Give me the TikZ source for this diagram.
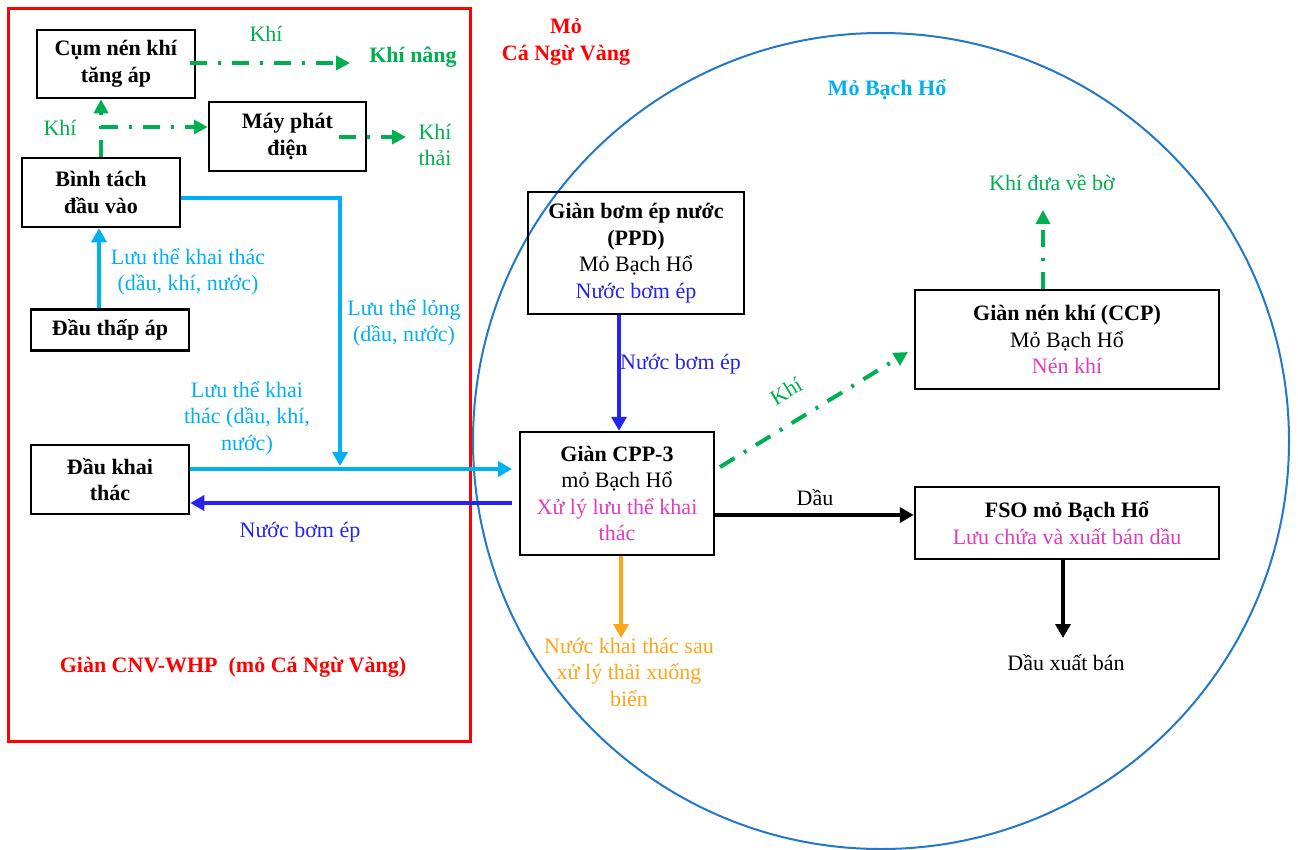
\documentclass[tikz,border=0pt]{standalone}
\usepackage{fontspec}
\setmainfont{Liberation Serif}
\usetikzlibrary{arrows.meta}
\definecolor{cgreen}{HTML}{00B050}
\definecolor{ccyan}{HTML}{00B0F0}
\definecolor{cblue}{HTML}{2424F0}
\definecolor{cmag}{HTML}{E03CBE}
\definecolor{corange}{HTML}{FFA51A}
\definecolor{cred}{HTML}{FF0000}
\definecolor{ccircle}{HTML}{2478C8}
\begin{document}
\begin{tikzpicture}[x=1pt,y=-1pt,
  every node/.style={font=\fontsize{22}{26.5}\selectfont, inner sep=0pt, align=center},
  box/.style={draw=black, line width=2.5pt, fill=none},
  gas/.style={draw=cgreen, line width=4pt, dash pattern=on 17pt off 11pt on 3pt off 11pt, -{Triangle[length=14pt,width=14pt]}},
  flowc/.style={draw=ccyan, line width=4pt, -{Triangle[length=14pt,width=15pt]}},
  flowb/.style={draw=cblue, line width=4pt, -{Triangle[length=14pt,width=15pt]}},
  flowk/.style={draw=black, line width=4pt, -{Triangle[length=14pt,width=15pt]}},
  flowo/.style={draw=corange, line width=4pt, -{Triangle[length=14pt,width=15pt]}}
]
\useasboundingbox (0,0) rectangle (1298,849);
% frames
\draw[cred, line width=3pt] (8,8) rectangle (470,741);
\draw[ccircle, line width=2pt] (881,441) circle (408);

% boxes
\node[box, minimum width=158pt, minimum height=68pt] (cum) at (116,64) {\textbf{Cụm nén khí}\\\textbf{tăng áp}};
\node[box, minimum width=157pt, minimum height=69pt] (may) at (287.5,136.5) {\textbf{Máy phát}\\\textbf{điện}};
\node[box, minimum width=158pt, minimum height=69pt] (binh) at (101,192.5) {\textbf{Bình tách}\\\textbf{đầu vào}};
\node[box, minimum width=158pt, minimum height=41pt] (dta) at (110,330) {\textbf{Đầu thấp áp}};
\node[box, minimum width=158pt, minimum height=69pt] (dkt) at (110,479.5) {\textbf{Đầu khai}\\\textbf{thác}};
\node[box, minimum width=216pt, minimum height=122pt] (ppd) at (636,253) {\textbf{Giàn bơm ép nước}\\\textbf{(PPD)}\\Mỏ Bạch Hổ\\\textcolor{cblue}{Nước bơm ép}};
\node[box, minimum width=194pt, minimum height=123pt] (cpp) at (617,493.5) {\textbf{Giàn CPP-3}\\mỏ Bạch Hổ\\\textcolor{cmag}{Xử lý lưu thể khai}\\\textcolor{cmag}{thác}};
\node[box, minimum width=304pt, minimum height=99pt] (ccp) at (1067,339.5) {\textbf{Giàn nén khí (CCP)}\\Mỏ Bạch Hổ\\\textcolor{cmag}{Nén khí}};
\node[box, minimum width=304pt, minimum height=72pt] (fso) at (1067,523) {\textbf{FSO mỏ Bạch Hổ}\\\textcolor{cmag}{Lưu chứa và xuất bán dầu}};

% free coordinates
\coordinate (nangend) at (350,63);
\coordinate (branch) at (101,127);
\coordinate (thaiend) at (406,137);
\coordinate (lcorner) at (340,198);
\coordinate (ljoin) at (340,466);
\coordinate (cppin) at (512,469);
\coordinate (cppout) at (512,503);
\coordinate (khistart) at (720,467);
\coordinate (khiend) at (908,352);
\coordinate (bo) at (1043,210);
\coordinate (xuat) at (1063,638);
\coordinate (bien) at (621,638);

% gas lines
\draw[gas] ([xshift=-6pt]cum.east |- nangend) -- (nangend);
\draw[gas] (binh.north -| branch) -- (cum.south -| branch);
\draw[gas] (branch) -- (may.west |- branch);
\draw[gas] ([xshift=-28pt]may.east |- thaiend) -- (thaiend);
\draw[gas] (khistart) -- (khiend);
\draw[gas] (ccp.north -| bo) -- (bo);

% liquid lines
\draw[flowc] (binh.east |- lcorner) -- (lcorner) -- (ljoin);
\draw[flowc] (dta.north -| 99,0) -- (binh.south -| 99,0);
\draw[flowc] (dkt.east |- cppin) -- (cppin);
\draw[flowb] (cppout) -- (dkt.east |- cppout);
\draw[flowb] (ppd.south -| 619,0) -- (cpp.north -| 619,0);
\draw[flowk] (cpp.east |- 0,515) -- (fso.west |- 0,515);
\draw[flowk] (fso.south -| xuat) -- (xuat);
\draw[flowo] (cpp.south -| bien) -- (bien);

% labels
\node[text=cgreen] (lk1) at (266,34) {Khí};
\node[text=cgreen] (lkn) at (413,57) {\textbf{Khí nâng}};
\node[text=cgreen] (lk2) at (60,128) {Khí};
\node[text=cgreen] (lkt) at (435,145) {Khí\\thải};
\node[text=ccyan] (llt1) at (188,272) {Lưu thể khai thác\\(dầu, khí, nước)};
\node[text=ccyan] (llong) at (404,323) {Lưu thể lỏng\\(dầu, nước)};
\node[text=ccyan] (llt2) at (247,418) {Lưu thể khai\\thác (dầu, khí,\\nước)};
\node[text=cblue] (lnb1) at (300,532) {Nước bơm ép};
\node[text=cblue, anchor=west] (lnb2) at (620,364) {Nước bơm ép};
\node[text=cgreen, rotate=31] (lk3) at (786,391) {Khí};
\node (ldau) at (815,498) {Dầu};
\node[text=cgreen] (lbo) at (1052,183) {Khí đưa về bờ};
\node (lxb) at (1066,663) {Dầu xuất bán};
\node[text=corange] (lnk) at (629,672) {Nước khai thác sau\\xử lý thải xuống\\biển};
\node[text=cred] (lcnv) at (566,42) {\textbf{Mỏ}\\\textbf{Cá Ngừ Vàng}};
\node[text=ccyan] (lbh) at (887,90) {\textbf{Mỏ Bạch Hổ}};
\node[text=cred] (lwhp) at (233,667) {\textbf{Giàn CNV-WHP\ \ (mỏ Cá Ngừ Vàng)}};
\end{tikzpicture}
\end{document}
